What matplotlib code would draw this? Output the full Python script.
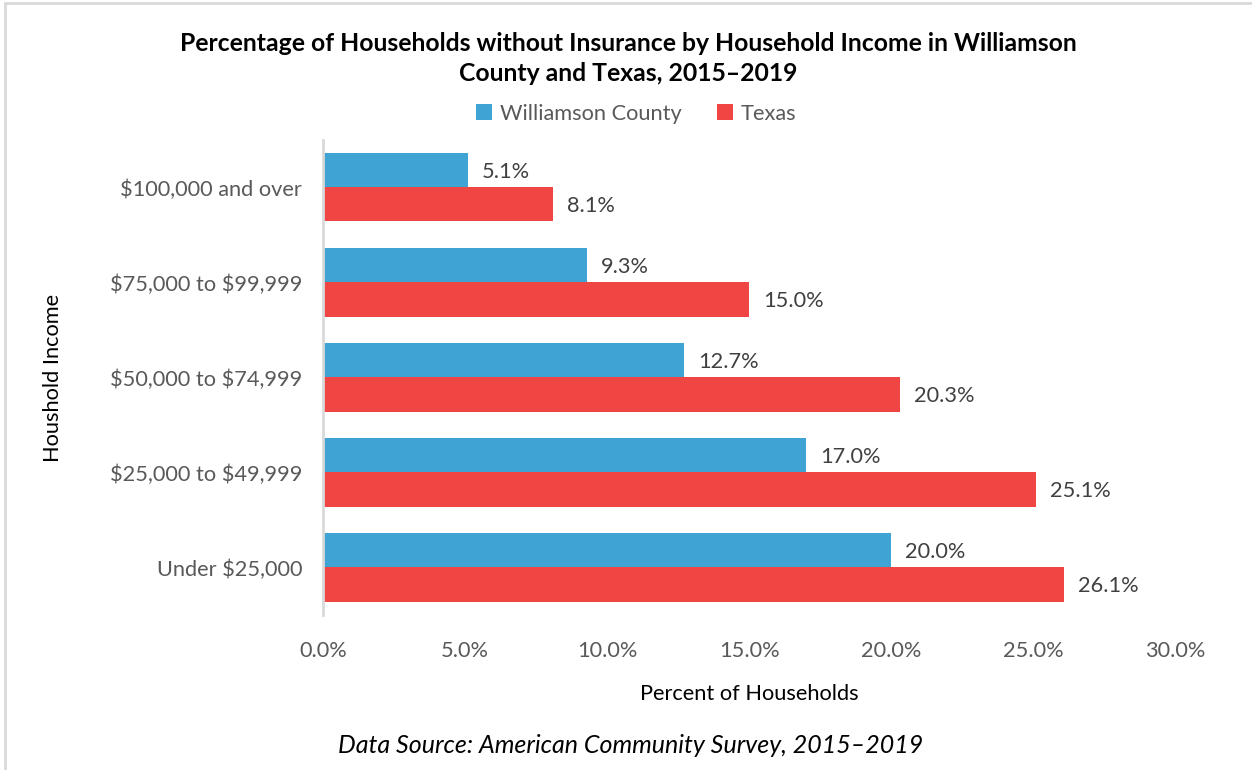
import matplotlib.pyplot as plt
import numpy as np
from matplotlib.patches import Rectangle
from matplotlib.ticker import FuncFormatter

plt.rcParams['font.family'] = ['Lato', 'DejaVu Sans']

# Data
categories = ['Under $25,000', '$25,000 to $49,999', '$50,000 to $74,999',
              '$75,000 to $99,999', '$100,000 and over']
williamson = [20.0, 17.0, 12.7, 9.3, 5.1]
texas = [26.1, 25.1, 20.3, 15.0, 8.1]

BLUE = '#3FA3D3'
RED = '#F04643'
GRAY_TXT = '#595959'
FS = 15.7

fig = plt.figure(figsize=(12.52, 7.70), dpi=100)
ax = fig.add_axes([0.258, 0.2013, 0.6805, 0.6169])

y = np.arange(len(categories))
h = 0.358
b1 = ax.barh(y + h / 2, williamson, height=h, color=BLUE, label='Williamson County')
b2 = ax.barh(y - h / 2, texas, height=h, color=RED, label='Texas')

for bars, vals in ((b1, williamson), (b2, texas)):
    for bar, v in zip(bars, vals):
        ax.text(v + 0.5, bar.get_y() + bar.get_height() / 2 - 0.02, f'{v:.1f}%',
                va='center', ha='left', fontsize=FS, color='#404040')

ax.set_xlim(0, 30)
ax.set_ylim(-0.5, len(categories) - 0.5)
ax.set_xticks(np.arange(0, 31, 5))
ax.xaxis.set_major_formatter(FuncFormatter(lambda v, p: f'{v:.1f}%'))
ax.set_yticks(y)
ax.set_yticklabels([c.replace('$', r'\$') for c in categories])
ax.tick_params(axis='both', length=0, labelsize=FS, labelcolor=GRAY_TXT)
ax.tick_params(axis='x', pad=19)
ax.tick_params(axis='y', pad=15)

for s in ('top', 'right', 'bottom'):
    ax.spines[s].set_visible(False)
ax.spines['left'].set_color('#D9D9D9')
ax.spines['left'].set_linewidth(2)

ax.set_xlabel('Percent of Households', fontsize=FS, labelpad=16)
ax.set_ylabel('Houshold Income', fontsize=FS)
ax.yaxis.set_label_coords(-0.305, 0.5)

fig.text(0.502, 0.943, 'Percentage of Households without Insurance by Household Income in Williamson',
         ha='center', va='center', fontsize=17.8, fontweight='bold')
fig.text(0.502, 0.905, 'County and Texas, 2015\u20132019',
         ha='center', va='center', fontsize=17.8, fontweight='bold')

fig.legend(handles=[b1, b2], loc='center', bbox_to_anchor=(0.508, 0.852), ncol=2,
           frameon=False, fontsize=FS, handlelength=0.75, handleheight=0.75,
           columnspacing=1.6, handletextpad=0.35, labelcolor=GRAY_TXT)

fig.text(0.504, 0.032, 'Data Source: American Community Survey, 2015\u20132019',
         ha='center', va='center', fontsize=18, style='italic')

fig.patches.append(Rectangle((0.004, -0.1), 1.2, 1.096, transform=fig.transFigure,
                             fill=False, edgecolor='#D9D9D9', linewidth=2))

fig.savefig('out.png', dpi=100)
